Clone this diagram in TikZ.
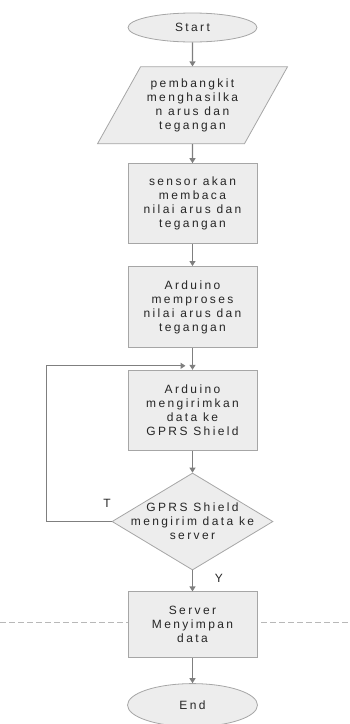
\documentclass[tikz,border=0pt]{standalone}
\usepackage{fontspec}
\setmainfont[LetterSpace=20]{Liberation Sans}
\usetikzlibrary{arrows.meta,positioning,shapes.geometric}
\definecolor{linegray}{HTML}{7F7F7F}
\definecolor{boxgray}{HTML}{A6A6A6}
\definecolor{fillgray}{HTML}{EDEDED}
\definecolor{txtgray}{HTML}{262626}

\begin{document}
\begin{tikzpicture}[x=1pt,y=-1pt,
	every node/.style={font=\fontsize{12}{14}\selectfont,text=txtgray,align=center,inner sep=2pt},
	box/.style={rectangle,draw=boxgray,fill=fillgray,line width=0.8pt,minimum width=129pt,minimum height=80pt},
	terminal/.style={ellipse,draw=boxgray,fill=fillgray,line width=0.8pt,minimum width=129pt,minimum height=29pt},
	inout/.style={trapezium,trapezium left angle=51,trapezium right angle=129,trapezium stretches body,draw=boxgray,fill=fillgray,line width=0.8pt,minimum width=190pt,minimum height=77pt,inner sep=0pt},
	decision/.style={diamond,draw=boxgray,fill=fillgray,line width=0.8pt,minimum width=161pt,minimum height=97pt,inner sep=0pt},
	flow/.style={draw=linegray,line width=1.2pt,-{Triangle[length=5pt,width=6pt]}}]
	\useasboundingbox (0,0) rectangle (350,724);
	\draw[boxgray!80,line width=0.6pt,dash pattern=on 6pt off 3pt] (0,622) -- (350,622);

	\node[terminal] (start) at (192.5,27.5) {Start};
	\node[inout,below=24pt of start] (gen) {pembangkit\\menghasilka\\n arus dan\\tegangan};
	\node[box,below=19pt of gen] (sensor) {sensor akan\\membaca\\nilai arus dan\\tegangan};
	\node[box,below=22pt of sensor,minimum height=81pt] (proc) {Arduino\\memproses\\nilai arus dan\\tegangan};
	\node[box,below=22pt of proc] (send) {Arduino\\mengirimkan\\data ke\\GPRS Shield};
	\node[decision,below=22pt of send] (check) {};
	\node (checktext) at (check) {GPRS Shield\\mengirim data ke\\server};
	\node[box,below=21pt of check,minimum height=66pt] (server) {Server\\Menyimpan\\data};
	\node[terminal,below=25pt of server,minimum width=130pt,minimum height=43pt] (end) {End};
	\node (lblT) at (107,503) {T};
	\node (lblY) at (219,578) {Y};

	\draw[flow] (start) -- (gen);
	\draw[flow] (gen) -- (sensor);
	\draw[flow] (sensor) -- (proc);
	\draw[flow] (proc) -- (send);
	\draw[flow] (send) -- (check);
	\draw[flow] (check.west) -- ++(-65,0) |- ([xshift=-7pt,yshift=4pt]send.north);
	\draw[flow] (check) -- (server);
	\draw[flow] (server) -- (end);
\end{tikzpicture}
\end{document}
